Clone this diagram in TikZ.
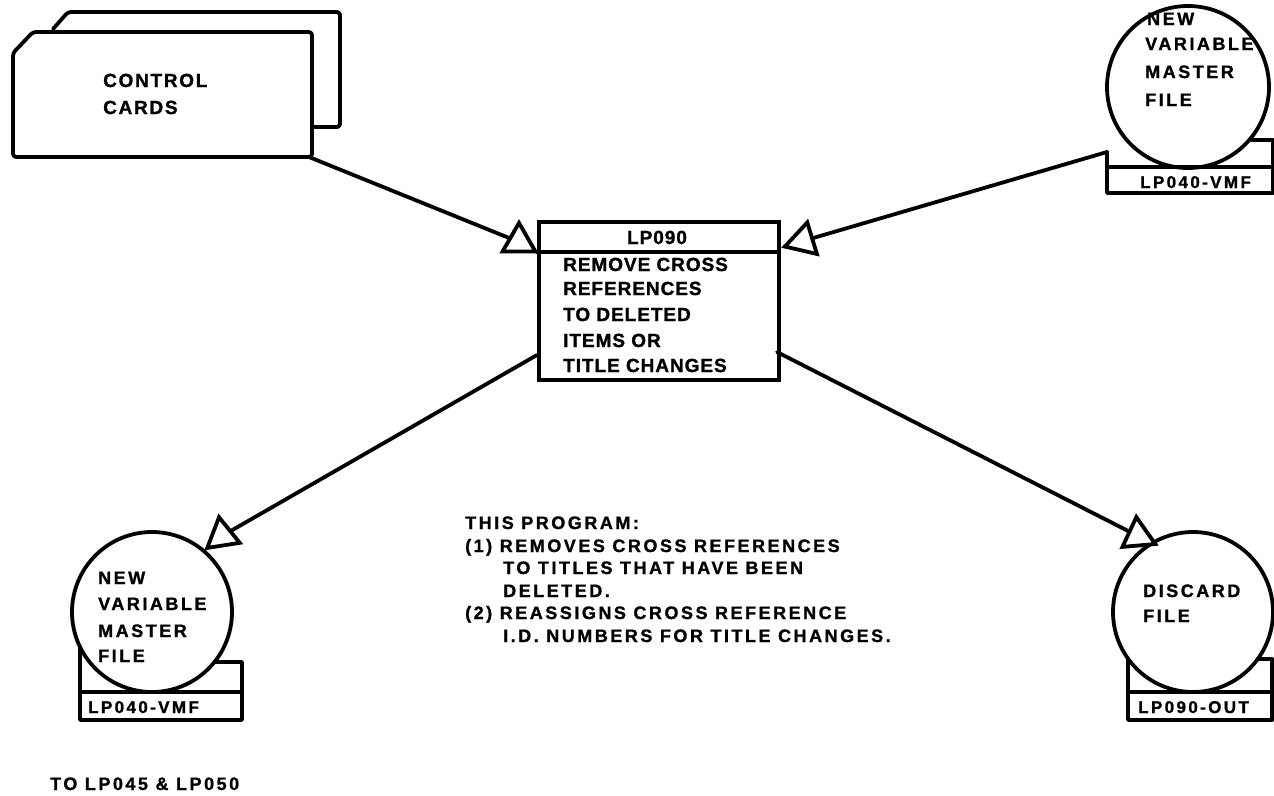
\documentclass[tikz,border=0pt]{standalone}
\usepackage{fontspec}
\setmainfont{Liberation Sans}
\newfontfamily\fwide{Liberation Sans}[LetterSpace=14,FakeBold=1.2]
\newfontfamily\fmid{Liberation Sans}[LetterSpace=9,FakeBold=1.2]
\newfontfamily\fnarrow{Liberation Sans}[LetterSpace=5,FakeBold=1.2]
\usetikzlibrary{shapes.geometric}
\tikzset{
  ink/.style={line width=3.8pt, line join=round, line cap=round},
  tri/.style={regular polygon, regular polygon sides=3, draw, fill=white, line width=3.8pt,
              minimum size=38pt, inner sep=0pt, outer sep=0pt},
  txt/.style={anchor=base west, inner sep=0pt, font=\fwide\bfseries\fontsize{18}{20}\selectfont},
  cardtxt/.style={anchor=base west, inner sep=0pt, font=\fmid\bfseries\fontsize{19}{21}\selectfont},
  boxtxt/.style={anchor=base west, inner sep=0pt, font=\fnarrow\bfseries\fontsize{19}{21}\selectfont},
  lbltxt/.style={anchor=base west, inner sep=0pt, font=\fwide\bfseries\fontsize{17}{19}\selectfont},
}
\begin{document}
\begin{tikzpicture}[x=1pt,y=-1pt]
\fill[white] (0,0) rectangle (1274,795);
\useasboundingbox (0,0) rectangle (1274,795);
\clip (0,0) rectangle (1274,795);

% ---------- control cards ----------
\draw[ink, rounded corners=3pt] (53,29) -- (68,12) -- (340,12) -- (340,127) -- (312,127);
\draw[ink, rounded corners=3pt] (13,53) -- (33,32) -- (312,32) -- (312,157) -- (13,157) -- cycle;
\node[cardtxt] (cc1) at (103,87) {CONTROL};
\node[cardtxt] (cc2) at (103,114) {CARDS};
\coordinate (cards) at (309,157);

% ---------- process box ----------
\node[draw, line width=3.8pt, minimum width=240pt, minimum height=158pt, anchor=north west, inner sep=0pt] (box) at (537,220) {};
\draw[ink] (537,252) -- (777,252);
\node[boxtxt, anchor=base] (b0) at (657,244) {LP090};
\node[boxtxt] (b1) at (563,271) {REMOVE CROSS};
\node[boxtxt] (b2) at (563,295) {REFERENCES};
\node[boxtxt] (b3) at (563,321) {TO DELETED};
\node[boxtxt] (b4) at (563,347) {ITEMS OR};
\node[boxtxt] (b5) at (563,372) {TITLE CHANGES};
\coordinate (boxL) at (537,355);
\coordinate (boxR) at (777,352);

% ---------- top right reel ----------
\draw[ink] (1188,87) circle[radius=81];
\draw[ink] (1252,140) -- (1273,140) -- (1273,193) -- (1107,193) -- (1107,152);
\draw[ink] (1107,167) -- (1273,167);
\node[txt] (r1a) at (1147,25) {NEW};
\node[txt] (r1b) at (1145,50) {VARIABLE};
\node[txt] (r1c) at (1145,78) {MASTER};
\node[txt] (r1d) at (1145,106) {FILE};
\node[lbltxt] (r1l) at (1140,188) {LP040-VMF};
\coordinate (reel1) at (1107,152);

% ---------- bottom left reel ----------
\draw[ink] (152,612) circle[radius=80];
\draw[ink] (215,662) -- (242,662) -- (242,720) -- (80,720) -- (80,647);
\draw[ink] (80,692) -- (242,692);
\node[txt] (r2a) at (98,584) {NEW};
\node[txt] (r2b) at (98,610) {VARIABLE};
\node[txt] (r2c) at (98,637) {MASTER};
\node[txt] (r2d) at (98,662) {FILE};
\node[lbltxt] (r2l) at (88,713) {LP040-VMF};

% ---------- bottom right reel ----------
\draw[ink] (1193,612) circle[radius=80];
\draw[ink] (1258,659) -- (1272,659) -- (1272,720) -- (1128,720) -- (1128,659);
\draw[ink] (1128,692) -- (1272,692);
\node[txt] (r3a) at (1143,597) {DISCARD};
\node[txt] (r3b) at (1143,622) {FILE};
\node[lbltxt] (r3l) at (1138,713) {LP090-OUT};

% ---------- flow triangles ----------
\node[tri] (t1) at (519,242) {};
\node[tri, rotate=-13] (t2) at (803,241) {};
\node[tri, rotate=9] (t3) at (222,536) {};
\node[tri, rotate=5] (t4) at (1138,536) {};

% ---------- connectors ----------
\draw[ink] (cards) -- (t1);
\draw[ink] (reel1) -- (t2);
\draw[ink] (boxL) -- (t3);
\draw[ink] (boxR) -- (t4);

% ---------- notes ----------
\node[txt] (n0) at (465,529) {THIS PROGRAM:};
\node[txt] (n1) at (465,552) {(1)\ REMOVES CROSS REFERENCES};
\node[txt] (n2) at (503,574) {TO TITLES THAT HAVE BEEN};
\node[txt] (n3) at (503,597) {DELETED.};
\node[txt] (n4) at (465,619) {(2)\ REASSIGNS CROSS REFERENCE};
\node[txt] (n5) at (503,642) {I.D. NUMBERS FOR TITLE CHANGES.};
\node[txt] (bot) at (50,790) {TO LP045 \& LP050};
\end{tikzpicture}
\end{document}
